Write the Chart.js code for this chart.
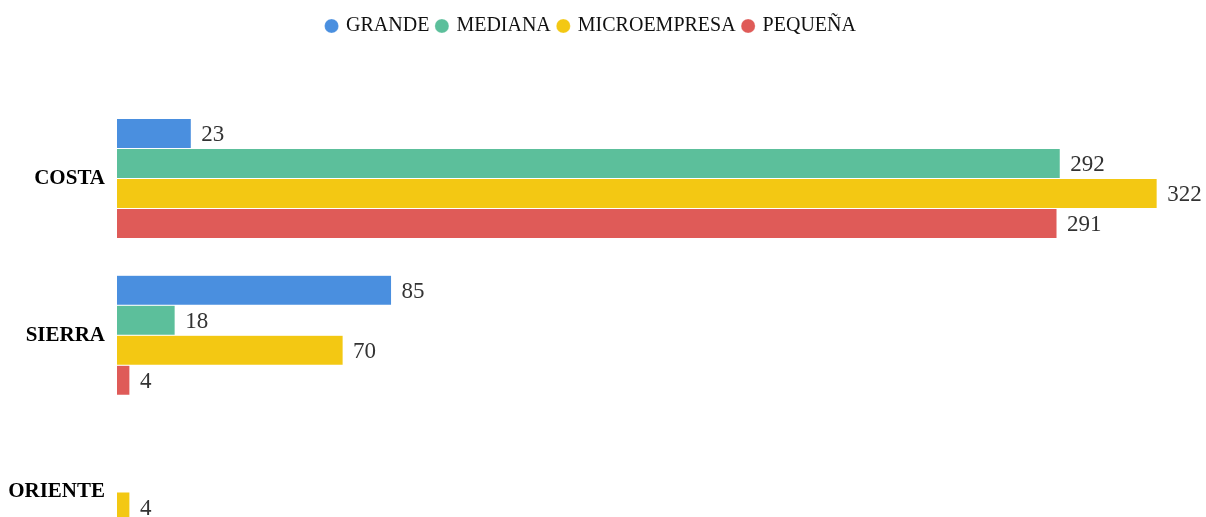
<!DOCTYPE html>
<html>
<head>
<meta charset="utf-8">
<script src="https://cdn.jsdelivr.net/npm/chart.js@4/dist/chart.umd.min.js"></script>
<style>
  html, body { margin: 0; padding: 0; background: #fff; overflow: hidden; }
  #wrap { width: 1206px; height: 595px; position: relative; }
</style>
</head>
<body>
<div id="wrap"><canvas id="chart"></canvas></div>
<script>
const regiones = ['COSTA', 'SIERRA', 'ORIENTE'];
const grande = [23, 85, null];
const mediana = [292, 18, null];
const microempresa = [322, 70, 4];
const pequena = [291, 4, null];

const SERIF = '"Liberation Serif", "Times New Roman", serif';

// etiquetas de valor al final de cada barra
const valueLabels = {
  id: 'valueLabels',
  afterDatasetsDraw(chart) {
    const ctx = chart.ctx;
    ctx.save();
    ctx.font = '23px ' + SERIF;
    ctx.fillStyle = '#333';
    ctx.textAlign = 'left';
    ctx.textBaseline = 'middle';
    chart.data.datasets.forEach((ds, i) => {
      const meta = chart.getDatasetMeta(i);
      meta.data.forEach((bar, j) => {
        const v = ds.data[j];
        if (v === null || v === undefined) return;
        ctx.fillText(String(v), bar.x + 10, bar.y + 2);
      });
    });
    ctx.restore();
  }
};

// espacio extra bajo la leyenda
const legendMargin = {
  id: 'legendMargin',
  beforeInit(chart) {
    const fit = chart.legend.fit;
    chart.legend.fit = function () {
      fit.bind(chart.legend)();
      this.height += 54;
    };
  }
};

new Chart(document.getElementById('chart'), {
  type: 'bar',
  data: {
    labels: regiones,
    datasets: [
      { label: 'GRANDE', data: grande, backgroundColor: '#4A8FDF' },
      { label: 'MEDIANA', data: mediana, backgroundColor: '#5CBF9B' },
      { label: 'MICROEMPRESA', data: microempresa, backgroundColor: '#F3C813' },
      { label: 'PEQUEÑA', data: pequena, backgroundColor: '#DF5B58' }
    ]
  },
  options: {
    indexAxis: 'y',
    responsive: true,
    maintainAspectRatio: false,
    animation: false,
    layout: { padding: { top: 8, right: 23, left: 0, bottom: 0 } },
    datasets: {
      bar: {
        categoryPercentage: 0.765,
        barPercentage: 1.0,
        borderWidth: 0.5,
        borderColor: 'rgba(255,255,255,0.5)',
        skipNull: false
      }
    },
    scales: {
      x: {
        display: false,
        min: 0,
        max: 330,
        grid: { display: false }
      },
      y: {
        grid: { display: false, drawTicks: false },
        border: { display: false },
        afterFit(scale) { scale.width = 117; },
        ticks: {
          padding: 12,
          color: '#000',
          font: { family: SERIF, size: 21, weight: 'bold' }
        }
      }
    },
    plugins: {
      legend: {
        position: 'top',
        labels: {
          usePointStyle: true,
          pointStyle: 'circle',
          boxWidth: 9,
          boxHeight: 10,
          padding: 8,
          color: '#111',
          font: { family: SERIF, size: 20 }
        }
      },
      tooltip: { enabled: false }
    }
  },
  plugins: [valueLabels, legendMargin]
});
</script>
</body>
</html>
